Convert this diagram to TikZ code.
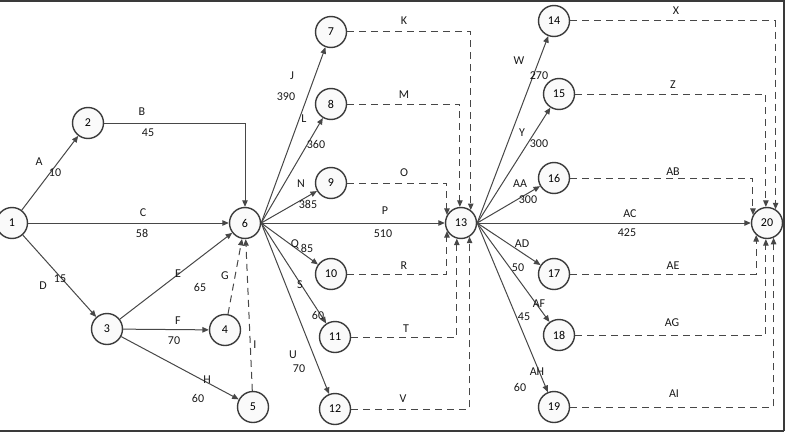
\documentclass[tikz,border=0pt]{standalone}
\usepackage{fontspec}
\setmainfont{Carlito}
\usepackage{tikz}
\usetikzlibrary{arrows.meta,positioning}
\definecolor{edgegray}{HTML}{474747}
\definecolor{ringgray}{HTML}{3A3A3A}
\tikzset{
  event/.style={circle, draw=ringgray, line width=1.4pt, fill=black!2,
    minimum size=31pt, inner sep=0pt, font=\fontsize{12}{14}\selectfont},
  act/.style={-{Triangle[length=6.5pt,width=5.5pt]}, draw=edgegray, line width=1pt},
  dummy/.style={act, dash pattern=on 7pt off 5pt},
  lbl/.style={inner sep=0pt, text=black!90, font=\fontsize{12}{14}\selectfont}
}

\begin{document}
\begin{tikzpicture}[x=1pt, y=-1pt]
  \useasboundingbox (0,0) rectangle (786,436);

  % frame
  \draw[ringgray, line width=1.5pt] (0,1) -| (784,431);
  \draw[ringgray, line width=2.5pt] (784,431) -- (0,431);

  % events
  \foreach \n/\x/\y in {1/12/223, 2/88/123, 3/107/329, 4/225/330, 5/253/407,
      6/245/223, 7/331/32, 8/331/104, 9/331/183, 10/331/274, 11/335/337,
      12/335/409, 13/461/223, 14/554/21, 15/559/94, 16/554/178, 17/554/274,
      18/559/335, 19/554/407, 20/767/223}
    \node[event] (n\n) at (\x,\y) {\n};

  % activities
  \draw[act] (n1) -- (n2);
  \draw[act] (n1) -- (n6);
  \draw[act] (n1) -- (n3);
  \draw[act] (n2.east) -| (n6.north);
  \foreach \m in {4,5,6}
    \draw[act] (n3) -- (n\m);
  \foreach \m in {4,5}
    \draw[dummy] (n\m) -- (n6);
  \foreach \m in {7,...,13}
    \draw[act] (n6.east) -- (n\m);
  \foreach \m/\a in {7/53, 8/94, 9/150, 10/210, 11/255, 12/302}
    \draw[dummy] (n\m.east) -| (n13.\a);
  \foreach \m in {14,...,20}
    \draw[act] (n13.east) -- (n\m);
  \foreach \m/\a in {14/58, 15/94, 16/150, 17/228, 18/266, 19/294}
    \draw[dummy] (n\m.east) -| (n20.\a);

  % activity names
  \foreach \t/\x/\y in {A/39/162, B/142/112, C/143/213, D/43/286, E/178/274,
      F/178/321, G/225/276, H/207/380, I/255/345, J/292/76, K/404/21,
      L/304/119, M/404/95, N/301/184, O/404/173, P/385/211, Q/295/244,
      R/404/266, S/300/285, T/406/329, U/293/355, V/403/399, W/519/61,
      X/676/11, Y/522/133, Z/673/85, AA/520/184, AB/673/172, AC/630/214,
      AD/522/244, AE/673/266, AF/539/304, AG/672/323, AH/537/372, AI/674/394}
    \node[lbl] (l\t) at (\x,\y) {\t};

  % durations
  \foreach \t/\v/\x/\y in {A/10/55/173, B/45/148/133, C/58/142/233, D/15/60/279,
      E/65/200/287, F/70/174/341, H/60/198/398, J/390/286/97, L/360/316/144,
      N/385/308/204, P/510/383/234, Q/85/307/248, S/60/318/315, U/70/299/369,
      W/270/539/76, Y/300/539/144, AA/300/528/200, AC/425/627/233,
      AD/50/518/268, AF/45/524/317, AH/60/520/387}
    \node[lbl] (d\t) at (\x,\y) {\v};
\end{tikzpicture}
\end{document}
